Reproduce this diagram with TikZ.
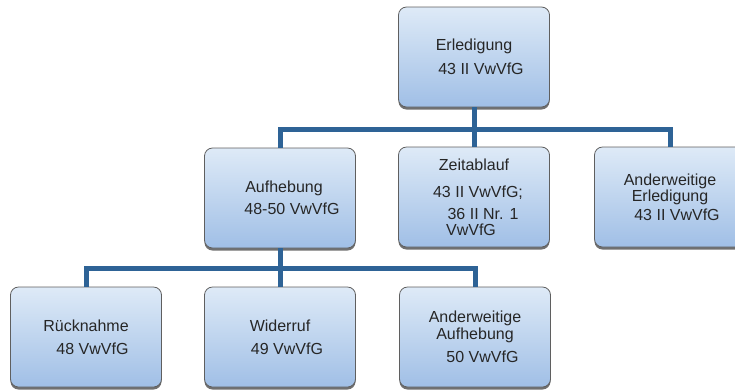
\documentclass[tikz,border=0pt]{standalone}
\usepackage{fontspec}
\setmainfont{Liberation Sans}
\usetikzlibrary{shadows}
\definecolor{boxtop}{RGB}{222,234,247}
\definecolor{boxbot}{RGB}{160,191,230}
\definecolor{linkblue}{RGB}{46,99,150}
\definecolor{boxline}{RGB}{95,95,95}

\begin{document}
\begin{tikzpicture}[x=1pt,y=-1pt,line cap=round,line join=round,
  box/.style={draw=boxline,line width=0.8pt,rounded corners=8pt,
    top color=boxtop,bottom color=boxbot,
    minimum width=151pt,minimum height=100pt,inner sep=0pt,
    align=center,font=\fontsize{16}{16}\selectfont,text=black!85,
    drop shadow={shadow xshift=0pt,shadow yshift=-2.5pt,opacity=0.75,fill=black!75}},
  link/.style={draw=linkblue,line width=5pt,line cap=butt,line join=miter}]
\useasboundingbox (0,0) rectangle (735,389);
\clip (0,0) rectangle (735,389);
\coordinate (bar1) at (0,129);
\coordinate (bar2) at (0,268);
\node[box] (erl) at (474,57) {Erledigung\\[8pt]\hspace*{14pt}43 II VwVfG};
\node[box] (aufh) at (280,198) {\hspace*{8pt}Aufhebung\\[6pt]\hspace*{24pt}48-50 VwVfG};
\node[box] (zeit) at (474,197) {Zeitablauf\\[11pt]\hspace*{8pt}43 II VwVfG;\\[6pt]\hspace*{18pt}36 II Nr. 1\\[0pt]\hspace*{-6pt}VwVfG};
\node[box] (erlsonst) at (670,197) {Anderweitige\\[0pt]Erledigung\\[3pt]\hspace*{14pt}43 II VwVfG};
\node[box] (rueck) at (86,337) {R\"ucknahme\\[7pt]\hspace*{13pt}48 VwVfG};
\node[box] (wider) at (280,337) {Widerruf\\[7pt]\hspace*{14pt}49 VwVfG};
\node[box] (aufhsonst) at (475,337) {Anderweitige\\[1pt]Aufhebung\\[7pt]\hspace*{15pt}50 VwVfG};
\draw[link] (erl.south) -- (erl.south |- bar1) -| (aufh.north);
\draw[link] (erl.south) -- (zeit.north);
\draw[link] (erl.south |- bar1) -| (erlsonst.north);
\draw[link] (aufh.south) -- (aufh.south |- bar2) -| (rueck.north);
\draw[link] (aufh.south) -- (wider.north);
\draw[link] (aufh.south |- bar2) -| (aufhsonst.north);
\end{tikzpicture}
\end{document}
